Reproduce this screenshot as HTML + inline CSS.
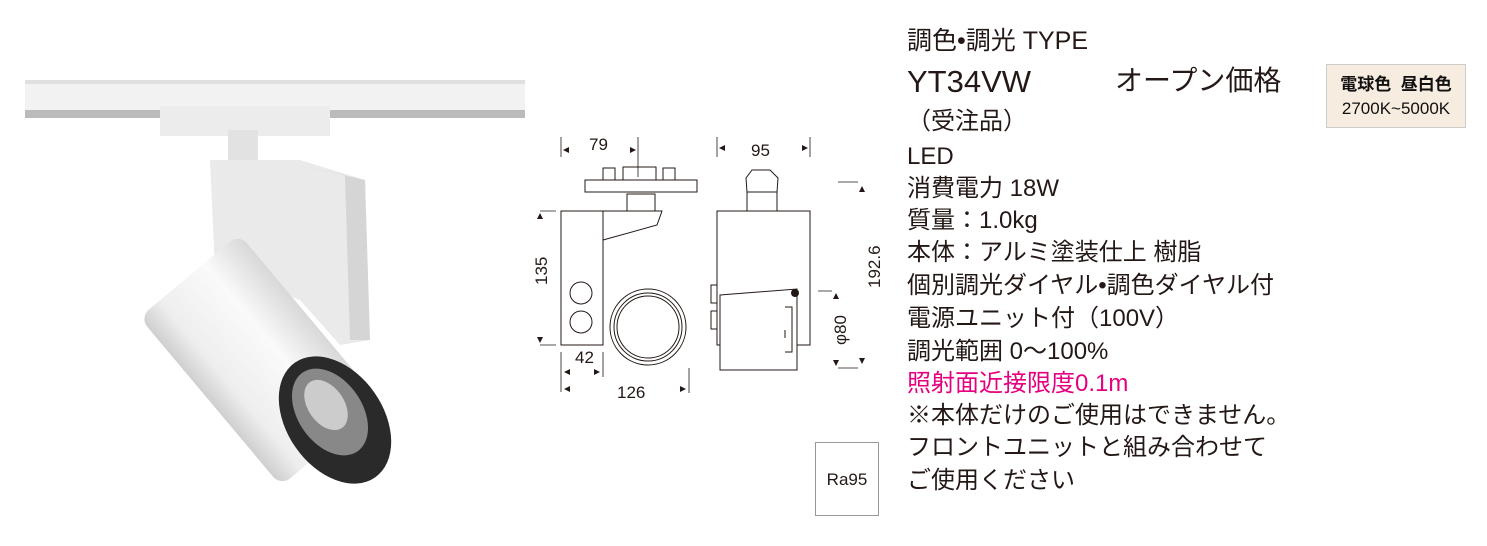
<!DOCTYPE html>
<html><head><meta charset="utf-8"><style>
body{margin:0;width:1487px;height:546px;background:#fff;overflow:hidden;position:relative;font-family:"Liberation Sans","Noto Sans CJK JP",sans-serif;color:#231815}
.t{position:absolute;left:907px;font-size:24px;white-space:nowrap;line-height:1}
</style></head><body>
<svg width="1487" height="546" style="position:absolute;left:0;top:0">
<defs>
<linearGradient id="cyl" x1="0" x2="0" y1="0" y2="1"><stop offset="0" stop-color="#d8d8d8"/><stop offset=".35" stop-color="#fafafa"/><stop offset=".8" stop-color="#eee"/><stop offset="1" stop-color="#cfcfcf"/></linearGradient>
</defs>
<rect x="25" y="80" width="500" height="38" fill="#f2f2f2"/>
<rect x="25" y="110" width="500" height="8" fill="#bbb"/>
<rect x="25" y="80" width="500" height="4" fill="#e0e0e0"/>
<rect x="160" y="106" width="170" height="30" fill="#ececec"/>
<rect x="228" y="130" width="30" height="35" fill="#e2e2e2"/>
<polygon points="210,160 300,160 365,180 370,340 340,345 300,300 215,270" fill="#eaeaea"/>
<polygon points="300,165 345,175 350,340 370,340 365,180" fill="#d5d5d5"/>
<g transform="rotate(50 260 360)">
<rect x="150" y="295" width="220" height="130" rx="12" fill="url(#cyl)"/>
</g>
<ellipse cx="335" cy="420" rx="48" ry="70" transform="rotate(-35 335 420)" fill="#2a2a2a"/>
<ellipse cx="330" cy="412" rx="32" ry="48" transform="rotate(-35 330 412)" fill="#888"/>
<ellipse cx="326" cy="405" rx="18" ry="28" transform="rotate(-35 326 405)" fill="#ccc"/>
<g fill="none" stroke="#231815" stroke-width="1">
<rect x="561" y="211" width="42" height="134"/>
<polyline points="603,211 662,211 657,225 603,240"/>
<rect x="627" y="194" width="28" height="17"/>
<rect x="585" y="180" width="112" height="12"/>
<rect x="623" y="167" width="33" height="13"/>
<rect x="603" y="168" width="12" height="12"/><rect x="663" y="168" width="12" height="12"/>
<circle cx="648" cy="327" r="38"/><circle cx="648" cy="327" r="34"/><circle cx="648" cy="327" r="31"/>
<circle cx="581" cy="293" r="11"/><circle cx="581" cy="322" r="11"/>
<rect x="717" y="211" width="93" height="134"/>
<path d="M720 295 L797 289 L797 370 L720 370 Z" fill="#fff"/>
<rect x="747" y="192" width="30" height="19"/>
<polygon points="747,192 746,178 752,170 770,170 778,178 777,192"/>
<rect x="711" y="285" width="6" height="18"/><rect x="711" y="311" width="6" height="18"/>
<path d="M785 307 h7 v45 h-7 M785 330 v8"/>
</g>
<circle cx="795" cy="293" r="4" fill="#231815"/>
<g stroke="#231815" stroke-width="0.8" fill="none">
<path d="M561 137v20 M638 137v40 M717 137v20 M810 137v20 M838 182h20 M838 368h20 M818 291h14 M540 211h16 M540 345h16 M561 352v40 M603 352v25 M689 368v25"/>
</g>
<g fill="#231815">
<polygon points="563,150 569,147 569,153"/><polygon points="636,150 630,147 630,153"/>
<polygon points="719,148 725,145 725,151"/><polygon points="808,148 802,145 802,151"/>
<polygon points="862,186 859,192 865,192"/><polygon points="862,364 859,358 865,358"/>
<polygon points="836,293 833,299 839,299"/><polygon points="836,366 833,360 839,360"/>
<polygon points="540,213 537,219 543,219"/><polygon points="540,343 537,337 543,337"/>
<polygon points="564,372 570,369 570,375"/><polygon points="600,372 594,369 594,375"/>
<polygon points="564,389 570,386 570,392"/><polygon points="686,389 680,386 680,392"/>
</g>
<g font-size="17" fill="#231815" font-family="Liberation Sans,sans-serif">
<text x="589" y="150">79</text><text x="751" y="156">95</text>
<text x="575" y="363">42</text><text x="617" y="398">126</text>
<text transform="translate(547 285) rotate(-90)">135</text>
<text transform="translate(880 288) rotate(-90)">192.6</text>
<text transform="translate(846 345) rotate(-90)">φ80</text>
</g>
</svg>
<div style="position:absolute;left:815px;top:442px;width:64px;height:74px;border:1px solid #999;box-sizing:border-box;font-size:17px;text-align:center;line-height:74px">Ra95</div>
<div style="position:absolute;left:1326px;top:64px;width:140px;height:64px;background:#f7ece0;border:1px solid #ccc;box-sizing:border-box;font-size:17px;font-weight:bold;text-align:center;line-height:24px;padding-top:8px;color:#111">電球色&nbsp;&nbsp;昼白色<br><span style="font-weight:normal">2700K~5000K</span></div>
<div class="t" style="top:29px;font-size:25px">調色•調光 TYPE</div>
<div class="t" style="top:66px;font-size:31px">YT34VW</div>
<div class="t" style="top:67px;left:1115px;font-size:28px">オープン価格</div>
<div class="t" style="top:110px">（受注品）</div>
<div class="t" style="top:145px">LED</div>
<div class="t" style="top:177px">消費電力 18W</div>
<div class="t" style="top:209px">質量：1.0kg</div>
<div class="t" style="top:241px">本体：アルミ塗装仕上 樹脂</div>
<div class="t" style="top:274px">個別調光ダイヤル•調色ダイヤル付</div>
<div class="t" style="top:307px">電源ユニット付（100V）</div>
<div class="t" style="top:340px">調光範囲 0〜100%</div>
<div class="t" style="top:372px;color:#e4007f">照射面近接限度0.1m</div>
<div class="t" style="top:404px">※本体だけのご使用はできません。</div>
<div class="t" style="top:436px">フロントユニットと組み合わせて</div>
<div class="t" style="top:469px">ご使用ください</div>
</body></html>
